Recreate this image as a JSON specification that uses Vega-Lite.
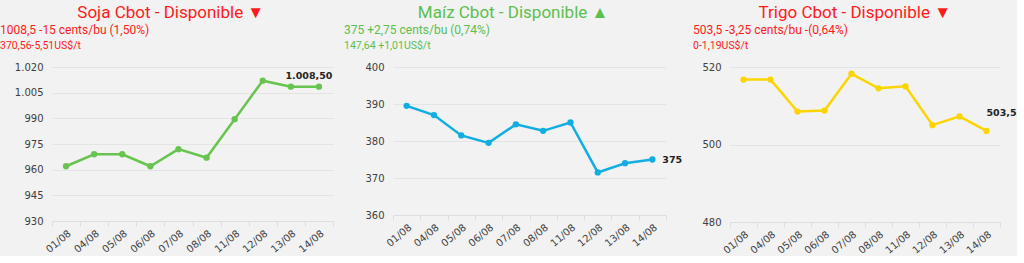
{
  "$schema": "https://vega.github.io/schema/vega-lite/v6.json",
  "background": "#f2f2f2",
  "padding": {"top": 3, "left": 0, "right": 0, "bottom": 0},
  "spacing": 10,
  "datasets": {
    "soja": [
      {"fecha": "01/08", "valor": 962},
      {"fecha": "04/08", "valor": 969},
      {"fecha": "05/08", "valor": 969},
      {"fecha": "06/08", "valor": 962},
      {"fecha": "07/08", "valor": 972},
      {"fecha": "08/08", "valor": 967},
      {"fecha": "11/08", "valor": 989.5},
      {"fecha": "12/08", "valor": 1012},
      {"fecha": "13/08", "valor": 1008.5},
      {"fecha": "14/08", "valor": 1008.5, "etiqueta": "1.008,50"}
    ],
    "maiz": [
      {"fecha": "01/08", "valor": 389.5},
      {"fecha": "04/08", "valor": 387},
      {"fecha": "05/08", "valor": 381.5},
      {"fecha": "06/08", "valor": 379.5},
      {"fecha": "07/08", "valor": 384.5},
      {"fecha": "08/08", "valor": 382.75},
      {"fecha": "11/08", "valor": 385},
      {"fecha": "12/08", "valor": 371.5},
      {"fecha": "13/08", "valor": 374},
      {"fecha": "14/08", "valor": 375, "etiqueta": "375"}
    ],
    "trigo": [
      {"fecha": "01/08", "valor": 516.75},
      {"fecha": "04/08", "valor": 516.75},
      {"fecha": "05/08", "valor": 508.5},
      {"fecha": "06/08", "valor": 508.75},
      {"fecha": "07/08", "valor": 518.25},
      {"fecha": "08/08", "valor": 514.5},
      {"fecha": "11/08", "valor": 515},
      {"fecha": "12/08", "valor": 505},
      {"fecha": "13/08", "valor": 507.25},
      {"fecha": "14/08", "valor": 503.5, "etiqueta": "503,5"}
    ]
  },
  "hconcat": [
    {
      "title": {"text": "Soja Cbot - Disponible ▼", "color": "#ff1a1a", "anchor": "middle", "frame": "bounds", "fontSize": 17, "offset": 2, "dx": 4},
      "vconcat": [
        {
          "title": {"text": "1008,5 -15 cents/bu (1,50%)", "subtitle": "370,56-5,51US$/t", "dx": -52, "color": "#ff1a1a", "subtitleColor": "#ff1a1a"},
          "width": 281,
          "height": 154,
          "data": {"name": "soja"},
          "encoding": {
            "x": {"field": "fecha", "type": "ordinal", "sort": null, "scale": {"type": "band", "paddingInner": 0, "paddingOuter": 0}},
            "y": {"field": "valor", "type": "quantitative", "scale": {"domain": [930, 1020], "nice": false, "zero": false}, "axis": {"values": [930, 945, 960, 975, 990, 1005, 1020], "labelExpr": "replace(format(datum.value, ','), ',', '.')"}}
          },
          "layer": [
            {"mark": {"type": "line", "color": "#66c44f", "strokeWidth": 2.5, "point": {"filled": true, "size": 40, "color": "#66c44f"}}},
            {"transform": [{"filter": "datum.etiqueta"}], "mark": {"type": "text", "font": "DejaVu Sans", "fontWeight": "bold", "fontSize": 9.5, "color": "#222222", "align": "center", "baseline": "bottom", "dx": -10, "dy": -6}, "encoding": {"text": {"field": "etiqueta"}}}
          ]
        }
      ]
    },
    {
      "title": {"text": "Maíz Cbot - Disponible ▲", "color": "#5cbf4c", "anchor": "middle", "frame": "bounds", "fontSize": 17, "offset": 2},
      "vconcat": [
        {
          "title": {"text": "375 +2,75 cents/bu (0,74%)", "subtitle": "147,64 +1,01US$/t", "dx": -49, "color": "#5cbf4c", "subtitleColor": "#5cbf4c"},
          "width": 273,
          "height": 148,
          "data": {"name": "maiz"},
          "encoding": {
            "x": {"field": "fecha", "type": "ordinal", "sort": null, "scale": {"type": "band", "paddingInner": 0, "paddingOuter": 0}},
            "y": {"field": "valor", "type": "quantitative", "scale": {"domain": [360, 400], "nice": false, "zero": false}, "axis": {"values": [360, 370, 380, 390, 400]}}
          },
          "layer": [
            {"mark": {"type": "line", "color": "#12aee3", "strokeWidth": 2.5, "point": {"filled": true, "size": 40, "color": "#12aee3"}}},
            {"transform": [{"filter": "datum.etiqueta"}], "mark": {"type": "text", "font": "DejaVu Sans", "fontWeight": "bold", "fontSize": 9.5, "color": "#222222", "align": "left", "baseline": "middle", "dx": 10, "dy": 0}, "encoding": {"text": {"field": "etiqueta"}}}
          ]
        }
      ]
    },
    {
      "title": {"text": "Trigo Cbot - Disponible ▼", "color": "#ff1a1a", "anchor": "middle", "frame": "bounds", "fontSize": 17, "offset": 2},
      "vconcat": [
        {
          "title": {"text": "503,5 -3,25 cents/bu -(0,64%)", "subtitle": "0-1,19US$/t", "dx": -37, "color": "#ff1a1a", "subtitleColor": "#ff1a1a"},
          "width": 270,
          "height": 155,
          "data": {"name": "trigo"},
          "encoding": {
            "x": {"field": "fecha", "type": "ordinal", "sort": null, "scale": {"type": "band", "paddingInner": 0, "paddingOuter": 0}},
            "y": {"field": "valor", "type": "quantitative", "scale": {"domain": [480, 520], "nice": false, "zero": false}, "axis": {"values": [480, 500, 520]}}
          },
          "layer": [
            {"mark": {"type": "line", "color": "#fcd400", "strokeWidth": 2.5, "point": {"filled": true, "size": 40, "color": "#fcd400"}}},
            {"transform": [{"filter": "datum.etiqueta"}], "mark": {"type": "text", "font": "DejaVu Sans", "fontWeight": "bold", "fontSize": 9.5, "color": "#222222", "align": "left", "baseline": "middle", "dx": 0, "dy": -18}, "encoding": {"text": {"field": "etiqueta"}}}
          ]
        }
      ]
    }
  ],
  "config": {
    "view": {"stroke": null},
    "title": {"font": "Roboto", "fontSize": 12, "fontWeight": "normal", "offset": 10, "subtitleFont": "Roboto", "subtitleFontSize": 10.5, "subtitlePadding": 4, "anchor": "start", "frame": "group"},
    "concat": {"spacing": 0},
    "axis": {"title": null, "labelFont": "DejaVu Sans", "labelFontSize": 10, "labelColor": "#404040"},
    "axisX": {"labelAngle": -40, "grid": false, "domainColor": "#dedede", "tickColor": "#dedede", "tickSize": 5, "tickBand": "extent", "labelPadding": 2},
    "axisY": {"domain": false, "ticks": false, "gridColor": "#e4e4e4", "labelPadding": 9}
  }
}
